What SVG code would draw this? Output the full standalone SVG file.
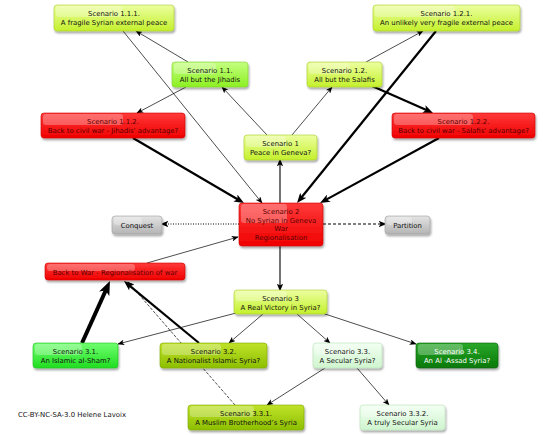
<svg xmlns="http://www.w3.org/2000/svg" width="560" height="435" viewBox="0 0 560 435">
<defs>
<linearGradient id="gLime" x1="0" y1="0" x2="0" y2="1"><stop offset="0" stop-color="#ecffa0"/><stop offset="1" stop-color="#c4f02c"/></linearGradient>
<linearGradient id="gGreen" x1="0" y1="0" x2="0" y2="1"><stop offset="0" stop-color="#c4ff80"/><stop offset="1" stop-color="#8cf022"/></linearGradient>
<linearGradient id="gRed" x1="0" y1="0" x2="0" y2="1"><stop offset="0" stop-color="#ff3a3a"/><stop offset="1" stop-color="#f00000"/></linearGradient>
<linearGradient id="gGray" x1="0" y1="0" x2="0" y2="1"><stop offset="0" stop-color="#e4e4e4"/><stop offset="1" stop-color="#b4b4b4"/></linearGradient>
<linearGradient id="gBright" x1="0" y1="0" x2="0" y2="1"><stop offset="0" stop-color="#70ff70"/><stop offset="1" stop-color="#20dd20"/></linearGradient>
<linearGradient id="gOlive" x1="0" y1="0" x2="0" y2="1"><stop offset="0" stop-color="#bfe22a"/><stop offset="1" stop-color="#8dbf00"/></linearGradient>
<linearGradient id="gPale" x1="0" y1="0" x2="0" y2="1"><stop offset="0" stop-color="#f2fff2"/><stop offset="1" stop-color="#cff5cf"/></linearGradient>
<linearGradient id="gDark" x1="0" y1="0" x2="0" y2="1"><stop offset="0" stop-color="#2aa82a"/><stop offset="1" stop-color="#087808"/></linearGradient>
<filter id="sh" x="-10%" y="-20%" width="120%" height="150%"><feGaussianBlur in="SourceAlpha" stdDeviation="1"/><feOffset dx="0.5" dy="1.5" result="b"/><feComponentTransfer><feFuncA type="linear" slope="0.35"/></feComponentTransfer><feMerge><feMergeNode/><feMergeNode in="SourceGraphic"/></feMerge></filter>
<marker id="a1" viewBox="0 0 10 8" refX="9" refY="4" markerWidth="7" markerHeight="5.6" markerUnits="userSpaceOnUse" orient="auto"><path d="M0,0 L10,4 L0,8 L2.5,4 z" fill="#000"/></marker>
<marker id="a2" viewBox="0 0 10 8" refX="8" refY="4" markerWidth="8" markerHeight="6.4" markerUnits="userSpaceOnUse" orient="auto"><path d="M0,0 L10,4 L0,8 L2.5,4 z" fill="#000"/></marker>
<marker id="a3" viewBox="0 0 10 8" refX="4" refY="4" markerWidth="10" markerHeight="8" markerUnits="userSpaceOnUse" orient="auto"><path d="M0,0 L10,4 L0,8 L2.5,4 z" fill="#000"/></marker>
<marker id="a4" viewBox="0 0 10 8" refX="4" refY="4" markerWidth="14" markerHeight="11.2" markerUnits="userSpaceOnUse" orient="auto"><path d="M0,0 L10,4 L0,8 L2.5,4 z" fill="#000"/></marker>
</defs>
<style>
.box{filter:url(#sh);rx:3px;ry:3px;stroke-width:0.6}
.lime{fill:url(#gLime);stroke:#a8cc30}
.green{fill:url(#gGreen);stroke:#80d030}
.red{fill:url(#gRed);stroke:#d00000}
.gray{fill:url(#gGray);stroke:#a0a0a0}
.bright{fill:url(#gBright);stroke:#20c020}
.olive{fill:url(#gOlive);stroke:#80aa00}
.pale{fill:url(#gPale);stroke:#b8e0b8}
.dark{fill:url(#gDark);stroke:#086008}
.gl{fill:#fff;opacity:0.28}
text{font-family:"DejaVu Sans","Liberation Sans",sans-serif;font-size:6.9px;text-anchor:middle;fill:#111}
.rt{fill:#5a0000}
.wt{fill:#ffffff}
.e{fill:none;stroke:#000}
.t1{stroke-width:0.7;marker-end:url(#a1)}
.t2{stroke-width:1.1;marker-end:url(#a2)}
.t3{stroke-width:2.2;marker-end:url(#a3)}
.t4{stroke-width:4;marker-end:url(#a4)}
</style>
<rect width="560" height="435" fill="#ffffff"/>
<g id="connectors">
<line class="e t1" x1="188" y1="62" x2="136" y2="31"/>
<line class="e t1" x1="186" y1="87" x2="137" y2="113"/>
<line class="e t1" x1="123" y1="31" x2="262" y2="203"/>
<line class="e t1" x1="267" y1="135" x2="222" y2="87"/>
<line class="e t1" x1="292" y1="135" x2="332" y2="87"/>
<line class="e t1" x1="366" y1="62" x2="423" y2="31"/>
<line class="e t1" x1="147" y1="263" x2="238" y2="237"/>
<line class="e t1" x1="236" y1="313" x2="118" y2="344"/>
<line class="e t1" x1="263" y1="314" x2="229" y2="343"/>
<line class="e t1" x1="297" y1="314" x2="330" y2="343"/>
<line class="e t1" x1="322" y1="313" x2="416" y2="344"/>
<line class="e t1" x1="325" y1="368" x2="267" y2="405"/>
<line class="e t1" x1="357" y1="368" x2="389" y2="405"/>
<line class="e t1" x1="235" y1="405" x2="128" y2="282" stroke-dasharray="3,1.5"/>
<line class="e t2" x1="280" y1="203" x2="280" y2="160"/>
<line class="e t2" x1="280" y1="246" x2="280" y2="290"/>
<line class="e t2" x1="239" y1="224" x2="162" y2="224" stroke-width="0.8" stroke-dasharray="1,1.5"/>
<line class="e t2" x1="323" y1="224" x2="385" y2="224" stroke-width="0.9" stroke-dasharray="3,2"/>
<line class="e t3" x1="436" y1="31" x2="300.8" y2="198.3"/>
<line class="e t3" x1="439" y1="138" x2="325.3" y2="200.1"/>
<line class="e t3" x1="133" y1="138" x2="238.8" y2="200"/>
<line class="e t3" x1="372" y1="86" x2="427.5" y2="110.6"/>
<line class="e t3" x1="199" y1="343" x2="128.6" y2="284.8" stroke-width="1.6"/>
<line class="e t4" x1="82" y1="343" x2="106.5" y2="288.7"/>
</g>
<g id="n111"><rect class="box lime" x="54" y="5" width="120" height="26"/><rect class="gl" x="56" y="6" width="66" height="11" rx="3"/><text x="114" y="16">Scenario 1.1.1.</text><text x="114" y="25">A fragile Syrian external peace</text></g>
<g id="n121"><rect class="box lime" x="373" y="5" width="147" height="26"/><rect class="gl" x="375" y="6" width="80" height="11" rx="3"/><text x="446.5" y="16">Scenario 1.2.1.</text><text x="446.5" y="25">An unlikely very fragile external peace</text></g>
<g id="n11"><rect class="box green" x="172" y="62" width="76" height="25"/><rect class="gl" x="174" y="63" width="42" height="11" rx="3"/><text x="210" y="73">Scenario 1.1.</text><text x="210" y="82">All but the Jihadis</text></g>
<g id="n12"><rect class="box lime" x="307" y="62" width="75" height="25"/><rect class="gl" x="309" y="63" width="41" height="11" rx="3"/><text x="344.5" y="73">Scenario 1.2.</text><text x="344.5" y="82">All but the Salafis</text></g>
<g id="n112"><rect class="box red" x="41" y="113" width="144" height="25"/><rect class="gl" x="43" y="114" width="80" height="11" rx="3"/><text class="rt" x="113" y="124">Scenario 1.1.2.</text><text class="rt" x="113" y="133">Back to civil war - Jihadis' advantage?</text></g>
<g id="n122"><rect class="box red" x="392" y="113" width="143" height="25"/><rect class="gl" x="394" y="114" width="79" height="11" rx="3"/><text class="rt" x="463.5" y="124">Scenario 1.2.2.</text><text class="rt" x="463.5" y="133">Back to civil war - Salafis' advantage?</text></g>
<g id="n1"><rect class="box lime" x="244" y="135" width="73" height="25"/><rect class="gl" x="246" y="136" width="40" height="11" rx="3"/><text x="280.5" y="146">Scenario 1</text><text x="280.5" y="155">Peace in Geneva?</text></g>
<g id="n2"><rect class="box red" x="239" y="203" width="84" height="43"/><rect class="gl" x="241" y="204" width="46" height="19" rx="3"/><text class="rt" x="281" y="214">Scenario 2</text><text class="rt" x="281" y="222.5">No Syrian in Geneva</text><text class="rt" x="281" y="231">War</text><text class="rt" x="281" y="239.5">Regionalisation</text></g>
<g id="nconquest"><rect class="box gray" x="112" y="216" width="50" height="18"/><rect class="gl" x="114" y="217" width="28" height="8" rx="3"/><text x="137" y="227.5">Conquest</text></g>
<g id="npartition"><rect class="box gray" x="385" y="216" width="45" height="18"/><rect class="gl" x="387" y="217" width="25" height="8" rx="3"/><text x="407.5" y="227.5">Partition</text></g>
<g id="nback"><rect class="box red" x="45" y="263" width="140" height="17"/><rect class="gl" x="47" y="264" width="88" height="7" rx="3"/><text class="rt" x="115" y="274.5">Back to War - Regionalisation of war</text></g>
<g id="n3"><rect class="box lime" x="234" y="290" width="93" height="24"/><rect class="gl" x="236" y="291" width="51" height="10" rx="3"/><text x="280.5" y="301">Scenario 3</text><text x="280.5" y="310">A Real Victory in Syria?</text></g>
<g id="n31"><rect class="box bright" x="33" y="343" width="85" height="25"/><rect class="gl" x="35" y="344" width="47" height="11" rx="3"/><text x="75.5" y="354">Scenario 3.1.</text><text x="75.5" y="363">An Islamic al-Sham?</text></g>
<g id="n32"><rect class="box olive" x="160" y="343" width="107" height="25"/><rect class="gl" x="162" y="344" width="59" height="11" rx="3"/><text x="213.5" y="354">Scenario 3.2.</text><text x="213.5" y="363">A Nationalist Islamic Syria?</text></g>
<g id="n33"><rect class="box pale" x="313" y="343" width="69" height="25"/><rect class="gl" x="315" y="344" width="38" height="11" rx="3"/><text x="347.5" y="354">Scenario 3.3.</text><text x="347.5" y="363">A Secular Syria?</text></g>
<g id="n34"><rect class="box dark" x="416" y="343" width="82" height="25"/><rect class="gl" x="418" y="344" width="45" height="11" rx="3"/><text class="wt" x="457" y="354">Scenario 3.4.</text><text class="wt" x="457" y="363">An Al -Assad Syria?</text></g>
<g id="n331"><rect class="box olive" x="188" y="405" width="116" height="25"/><rect class="gl" x="190" y="406" width="64" height="11" rx="3"/><text x="246" y="416">Scenario 3.3.1.</text><text x="246" y="425">A Muslim Brotherhood’s Syria</text></g>
<g id="n332"><rect class="box pale" x="360" y="405" width="85" height="25"/><rect class="gl" x="362" y="406" width="47" height="11" rx="3"/><text x="402.5" y="416">Scenario 3.3.2.</text><text x="402.5" y="425">A truly Secular Syria</text></g>
<text x="18" y="417" style="text-anchor:start">CC-BY-NC-SA-3.0 Helene Lavoix</text>
</svg>
